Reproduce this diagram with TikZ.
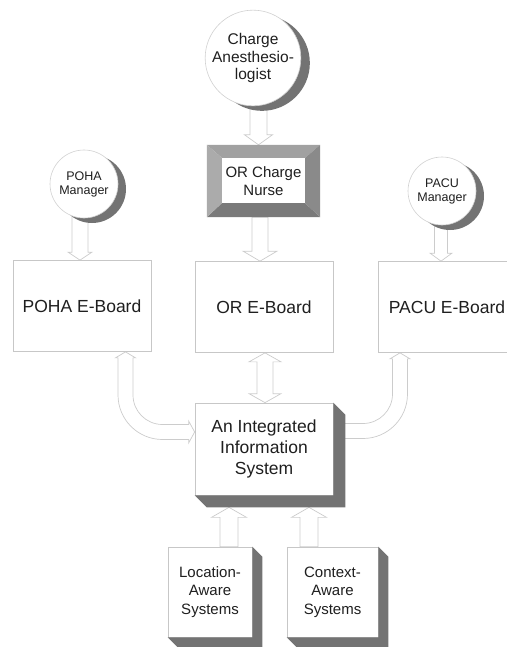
\documentclass[tikz,border=0pt]{standalone}
\usepackage{fontspec}
\setmainfont{Liberation Sans}
\usetikzlibrary{calc,shadows,backgrounds}
\begin{document}
\begin{tikzpicture}[x=1pt,y=1pt,
  board/.style={draw=black!22, fill=white, line width=0.7pt, minimum width=138pt, minimum height=91pt, inner sep=0pt, font=\fontsize{17.5}{21}\selectfont, text=black!88},
  sbox/.style={draw=black!22, fill=white, line width=0.7pt, inner sep=0pt, align=center, text=black!88},
  circ/.style={circle, draw=black!18, fill=white, line width=0.6pt, inner sep=0pt, align=center, text=black!88},
  cshadow/.style={drop shadow={shadow xshift=#1, shadow yshift=-5pt, fill=black!55, opacity=1}},
  barrow/.style={draw=black!20, fill=white, line width=0.7pt, line join=miter},
  shad/.style={fill=black!55}
]
\useasboundingbox (0,0) rectangle (506,-647);

% ---------- nodes ----------
\node[circ, cshadow=9pt, minimum size=90pt, font=\fontsize{15.5}{17.5}\selectfont] (anest) at (253,-58) {Charge\\Anesthesio-\\logist};
\node[minimum width=113pt, minimum height=72pt, inner sep=0pt, fill=white, align=center, font=\fontsize{15}{18}\selectfont, text=black!88] (nurse) at (263.5,-181) {OR Charge\\Nurse};
\node[circ, cshadow=8pt, minimum size=68pt, font=\fontsize{12.5}{14}\selectfont] (pohac) at (84,-184) {POHA\\Manager};
\node[circ, cshadow=8pt, minimum size=68pt, font=\fontsize{12.5}{14}\selectfont] (pacuc) at (442,-191) {PACU\\Manager};

\node[board] (pohab) at (82,-306) {POHA E-Board};
\node[board] (orb) at (264,-307) {OR E-Board};
\node[board] (pacub) at (447,-307) {PACU E-Board};

\node[sbox, minimum width=138pt, minimum height=92pt, font=\fontsize{17.5}{21}\selectfont] (iis) at (264,-449) {An Integrated\\Information\\System};
\node[sbox, minimum width=84pt, minimum height=90pt, font=\fontsize{15}{18.5}\selectfont] (loc) at (210,-592) {Location-\\Aware\\Systems};
\node[sbox, minimum width=91pt, minimum height=90pt, font=\fontsize{15}{18.5}\selectfont] (ctx) at (332.5,-592) {Context-\\Aware\\Systems};

% ---------- bevel of OR Charge Nurse ----------
\fill[black!37] (nurse.north west) -- (nurse.north east) -- ($(nurse.north east)+(-15,-13)$) -- ($(nurse.north west)+(15,-13)$) -- cycle;
\fill[black!52] (nurse.south west) -- (nurse.south east) -- ($(nurse.south east)+(-15,14)$) -- ($(nurse.south west)+(15,14)$) -- cycle;
\fill[black!33] (nurse.north west) -- ($(nurse.north west)+(15,-13)$) -- ($(nurse.south west)+(15,14)$) -- (nurse.south west) -- cycle;
\fill[black!46] (nurse.north east) -- ($(nurse.north east)+(-15,-13)$) -- ($(nurse.south east)+(-15,14)$) -- (nurse.south east) -- cycle;

% ---------- extruded shadows ----------
\fill[shad] (iis.north east) -- ++(12,-12) -- ($(iis.south east)+(12,-12)$) -- ($(iis.south west)+(12,-12)$) -- (iis.south west) -- (iis.south east) -- cycle;
\fill[shad] (loc.north east) -- ++(10,-10) -- ($(loc.south east)+(10,-10)$) -- ($(loc.south west)+(10,-10)$) -- (loc.south west) -- (loc.south east) -- cycle;
\fill[shad] (ctx.north east) -- ++(10,-10) -- ($(ctx.south east)+(10,-10)$) -- ($(ctx.south west)+(10,-10)$) -- (ctx.south west) -- (ctx.south east) -- cycle;

% ---------- block arrows ----------
\begin{scope}[on background layer]
% Charge Anesthesiologist -> OR Charge Nurse
\draw[barrow] let \p1=(anest.center), \p2=(nurse.north) in
  (\x2-13.5pt,\y1) -- (\x2-13.5pt,\y2+10pt) -- (\x2-19pt,\y2+10pt) -- (\x2-5pt,\y2) -- (\x2+9pt,\y2+10pt) -- (\x2+3.5pt,\y2+10pt) -- (\x2+3.5pt,\y1) -- cycle;
% OR Charge Nurse -> OR E-Board
\draw[barrow] let \p1=(nurse.south), \p2=(orb.north) in
  (\x2-12pt,\y1) -- (\x2-12pt,\y2+10pt) -- (\x2-21pt,\y2+10pt) -- (\x2-4pt,\y2) -- (\x2+13pt,\y2+10pt) -- (\x2+4pt,\y2+10pt) -- (\x2+4pt,\y1) -- cycle;
% POHA Manager -> POHA E-Board
\draw[barrow] let \p1=(pohac.center), \p2=(pohab.north) in
  (\x2-10pt,\y1) -- (\x2-10pt,\y2+8pt) -- (\x2-14pt,\y2+8pt) -- (\x2-2pt,\y2) -- (\x2+10pt,\y2+8pt) -- (\x2+6pt,\y2+8pt) -- (\x2+6pt,\y1) -- cycle;
% PACU Manager -> PACU E-Board
\draw[barrow] let \p1=(pacuc.center), \p2=(pacub.north) in
  (\x1-7.5pt,\y1) -- (\x1-7.5pt,\y2+8pt) -- (\x1-12pt,\y2+8pt) -- (\x1-1pt,\y2) -- (\x1+10pt,\y2+8pt) -- (\x1+5.5pt,\y2+8pt) -- (\x1+5.5pt,\y1) -- cycle;
% OR E-Board <-> Integrated Information System
\draw[barrow] let \p1=(orb.south), \p2=(iis.north) in
  (\x1+1pt,\y1) -- (\x1+17pt,\y1-9pt) -- (\x1+9pt,\y1-9pt) -- (\x1+9pt,\y2+9pt) -- (\x1+17pt,\y2+9pt) -- (\x1+1pt,\y2)
  -- (\x1-15pt,\y2+9pt) -- (\x1-7pt,\y2+9pt) -- (\x1-7pt,\y1-9pt) -- (\x1-15pt,\y1-9pt) -- cycle;
% Location-Aware -> IIS
\draw[barrow] let \p1=(loc.north), \p2=(iis.south) in
  (\x1+10pt,\y1) -- (\x1+10pt,\y2-22pt) -- (\x1+1.5pt,\y2-22pt) -- (\x1+19pt,\y2-12pt) -- (\x1+36.5pt,\y2-22pt) -- (\x1+28pt,\y2-22pt) -- (\x1+28pt,\y1) -- cycle;
% Context-Aware -> IIS
\draw[barrow] let \p1=(ctx.north), \p2=(iis.south) in
  (\x1-32.5pt,\y1) -- (\x1-32.5pt,\y2-22pt) -- (\x1-41pt,\y2-22pt) -- (\x1-23.5pt,\y2-12pt) -- (\x1-6pt,\y2-22pt) -- (\x1-14.5pt,\y2-22pt) -- (\x1-14.5pt,\y1) -- cycle;
% POHA E-Board <-> IIS (curved)
\draw[barrow] let \p1=(pohab.south), \p2=(iis.west) in
  (\x1+36pt,\y1-6pt) -- (\x1+33.5pt,\y1-6pt) -- (\x1+43.5pt,\y1) -- (\x1+53.5pt,\y1-6pt) -- (\x1+51pt,\y1-6pt)
  -- (\x1+51pt,\y2+54pt) arc[start angle=180,end angle=270,radius=29.5pt]
  -- (\x2-6pt,\y2+24.5pt) -- (\x2-6pt,\y2+28pt) -- (\x2,\y2+17pt) -- (\x2-6pt,\y2+6pt) -- (\x2-6pt,\y2+9.5pt)
  -- (\x1+80.5pt,\y2+9.5pt) arc[start angle=270,end angle=180,radius=44.5pt] -- cycle;
% PACU E-Board <-> IIS (curved)
\draw[barrow] let \p1=(pacub.south), \p2=(iis.east) in
  (\x1-54.5pt,\y1-6pt) -- (\x1-57pt,\y1-6pt) -- (\x1-47pt,\y1) -- (\x1-37pt,\y1-6pt) -- (\x1-39.5pt,\y1-6pt)
  -- (\x1-39.5pt,\y2+55pt) arc[start angle=0,end angle=-90,radius=44.5pt]
  -- (\x2+10pt,\y2+10.5pt) -- (\x2+10pt,\y2+7pt) -- (\x2+4pt,\y2+18pt) -- (\x2+10pt,\y2+29pt) -- (\x2+10pt,\y2+25.5pt)
  -- (\x1-84pt,\y2+25.5pt) arc[start angle=-90,end angle=0,radius=29.5pt] -- cycle;
\end{scope}
\end{tikzpicture}
\end{document}
